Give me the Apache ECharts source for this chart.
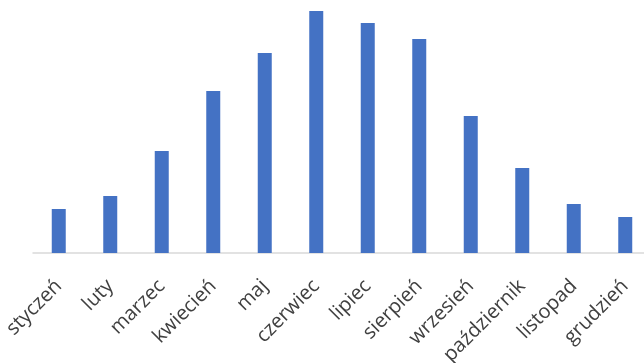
<!DOCTYPE html>
<html>
<head>
<meta charset="utf-8">
<script src="https://cdn.jsdelivr.net/npm/echarts@6/dist/echarts.min.js"></script>
<style>html,body{margin:0;padding:0;background:#fff;}#c{width:644px;height:363px;}</style>
</head>
<body>
<div id="c"></div>
<script>
var categories = ['styczeń','luty','marzec','kwiecień','maj','czerwiec','lipiec','sierpień','wrzesień','październik','listopad','grudzień'];
var values = [44, 57, 102, 162, 200, 242, 230, 214, 137, 85, 49, 36];

var chart = echarts.init(document.getElementById('c'));
chart.setOption({
  animation: false,
  grid: { left: 33, top: 3, width: 618, height: 250, containLabel: false, outerBoundsMode: 'none' },
  xAxis: {
    type: 'category',
    data: categories,
    axisTick: { show: false },
    axisLine: { lineStyle: { color: '#d9d9d9', width: 1.5 } },
    axisLabel: { rotate: 45, interval: 0, margin: 30, color: '#404040', fontSize: 20, fontFamily: 'Open Sans' }
  },
  yAxis: {
    type: 'value', min: 0, max: 250,
    show: false,
    splitLine: { show: false }
  },
  series: [{
    type: 'bar',
    data: values,
    barWidth: 14,
    itemStyle: { color: '#4472c4' }
  }]
});
</script>
</body>
</html>
